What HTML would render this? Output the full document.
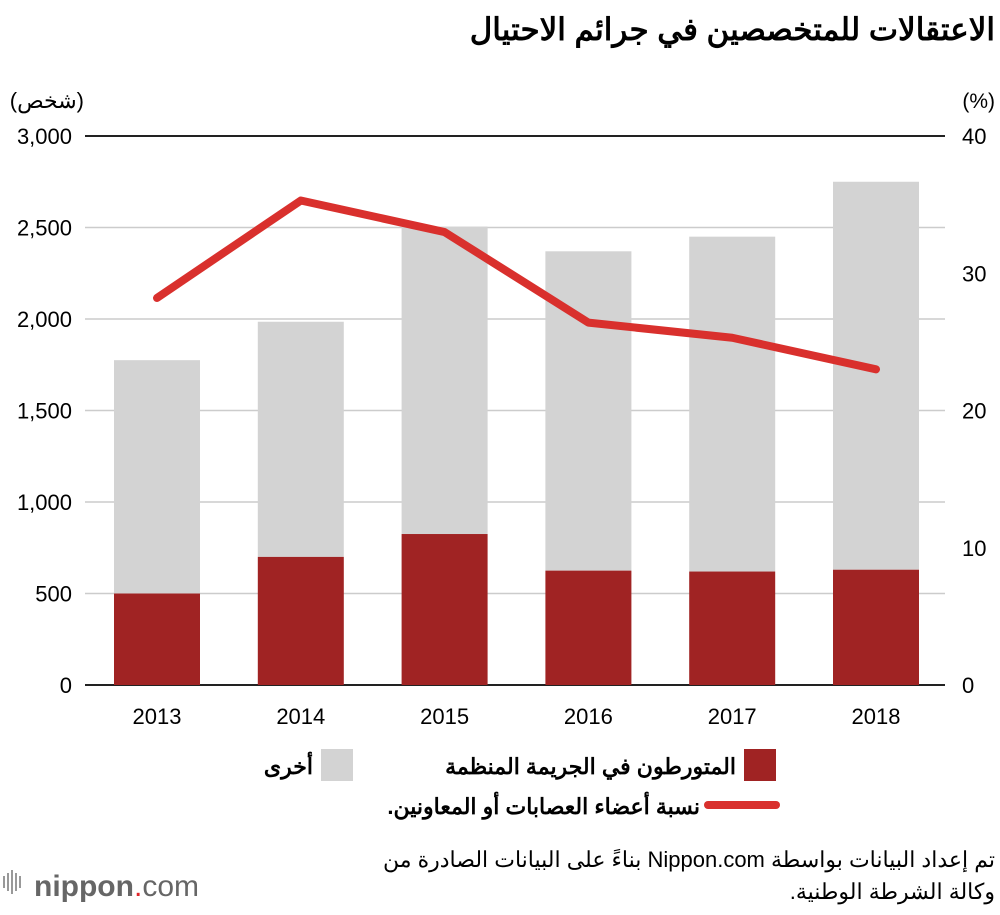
<!DOCTYPE html>
<html><head><meta charset="utf-8">
<style>
body{margin:0;background:#fff;width:1000px;height:910px;overflow:hidden;font-family:"Liberation Sans","Noto Sans CJK SC",sans-serif}
svg text{font-family:"Liberation Sans","Noto Sans CJK SC",sans-serif}
</style></head>
<body>
<svg id="chart" width="1000" height="910" xmlns="http://www.w3.org/2000/svg">
<text x="995" y="40" text-anchor="start" font-size="31" font-weight="bold" direction="rtl">الاعتقالات للمتخصصين في جرائم الاحتيال</text>
<text x="84" y="108" font-size="22" text-anchor="start" direction="rtl">(شخص)</text>
<text x="995" y="108" text-anchor="end" font-size="21">(%)</text>
<g id="grid"></g><g id="bars"></g><g id="line"></g><g id="axes"></g>
<g>
<rect x="744" y="749" width="32" height="32" fill="#a02323"/>
<text x="736" y="774" text-anchor="start" font-size="22" font-weight="bold" direction="rtl">المتورطون في الجريمة المنظمة</text>
<rect x="321" y="749" width="32" height="32" fill="#d3d3d3"/>
<text x="313" y="774" text-anchor="start" font-size="22" font-weight="bold" direction="rtl">أخرى</text>
<line x1="708" y1="805" x2="776" y2="805" stroke="#d9302d" stroke-width="8" stroke-linecap="round"/>
<text x="700" y="814" text-anchor="start" font-size="22" font-weight="bold" direction="rtl">نسبة أعضاء العصابات أو المعاونين.</text>
</g>
<text x="995" y="867" text-anchor="start" font-size="22" direction="rtl">تم إعداد البيانات بواسطة Nippon.com بناءً على البيانات الصادرة من</text>
<text x="995" y="899" text-anchor="start" font-size="22" direction="rtl">وكالة الشرطة الوطنية.</text>
<g>
<rect x="3" y="876" width="2" height="12" fill="#999"/><rect x="7" y="873" width="2" height="18" fill="#999"/><rect x="11" y="870" width="2" height="24" fill="#999"/><rect x="15" y="873" width="2" height="18" fill="#999"/><rect x="19" y="876" width="2" height="12" fill="#999"/>
<text x="34" y="896" font-size="30" fill="#666"><tspan font-weight="bold">nippon</tspan><tspan fill="#e0262b">.</tspan><tspan>com</tspan></text>
</g>
</svg>
<script>
const years=["2013","2014","2015","2016","2017","2018"];
const organized=[500,700,825,625,620,630];
const totals=[1775,1985,2505,2370,2450,2750];
const ratio=[28.2,35.3,33.0,26.4,25.3,23.0];
const leftTicks=[0,500,1000,1500,2000,2500,3000];
const rightTicks=[0,10,20,30,40];
const NS="http://www.w3.org/2000/svg";
const y0=685,y1=136,xl=85,xr=945;
const yL=v=>y0-(v/3000)*(y0-y1);
const yR=v=>y0-(v/40)*(y0-y1);
const xC=i=>157+i*143.8;
function mk(tag,attrs,parent,txt){const e=document.createElementNS(NS,tag);for(const k in attrs)e.setAttribute(k,attrs[k]);if(txt!==undefined)e.textContent=txt;document.getElementById(parent).appendChild(e);return e;}
leftTicks.forEach((t,i)=>{
 const g=mk("line",{x1:xl,x2:xr,y1:yL(t),y2:yL(t),stroke:(i==0||i==leftTicks.length-1)?"#222":"#ccc","stroke-width":(i==0||i==leftTicks.length-1)?2:1.5},"grid");
 
 
 const l=mk("text",{x:72,y:yL(t)+8,"text-anchor":"end","font-size":22},"axes",t.toLocaleString("en-US"));
 
 
});
rightTicks.forEach(t=>{
 const l=mk("text",{x:962,y:yR(t)+8,"font-size":22},"axes",String(t));
 
 
});
years.forEach((y,i)=>{
 const o=mk("rect",{x:xC(i)-43,y:yL(totals[i]),width:86,height:yL(organized[i])-yL(totals[i]),fill:"#d3d3d3"},"bars");
 
 
 const r=mk("rect",{x:xC(i)-43,y:yL(organized[i]),width:86,height:y0-yL(organized[i]),fill:"#a02323"},"bars");
 
 
 const l=mk("text",{x:xC(i),y:724,"text-anchor":"middle","font-size":22},"axes",y);
 
 
});
const pts=ratio.map((v,i)=>xC(i)+","+yR(v)).join(" ");
const pl=mk("polyline",{points:pts,fill:"none",stroke:"#d9302d","stroke-width":8,"stroke-linejoin":"round","stroke-linecap":"round"},"line");


</script>
</body></html>
